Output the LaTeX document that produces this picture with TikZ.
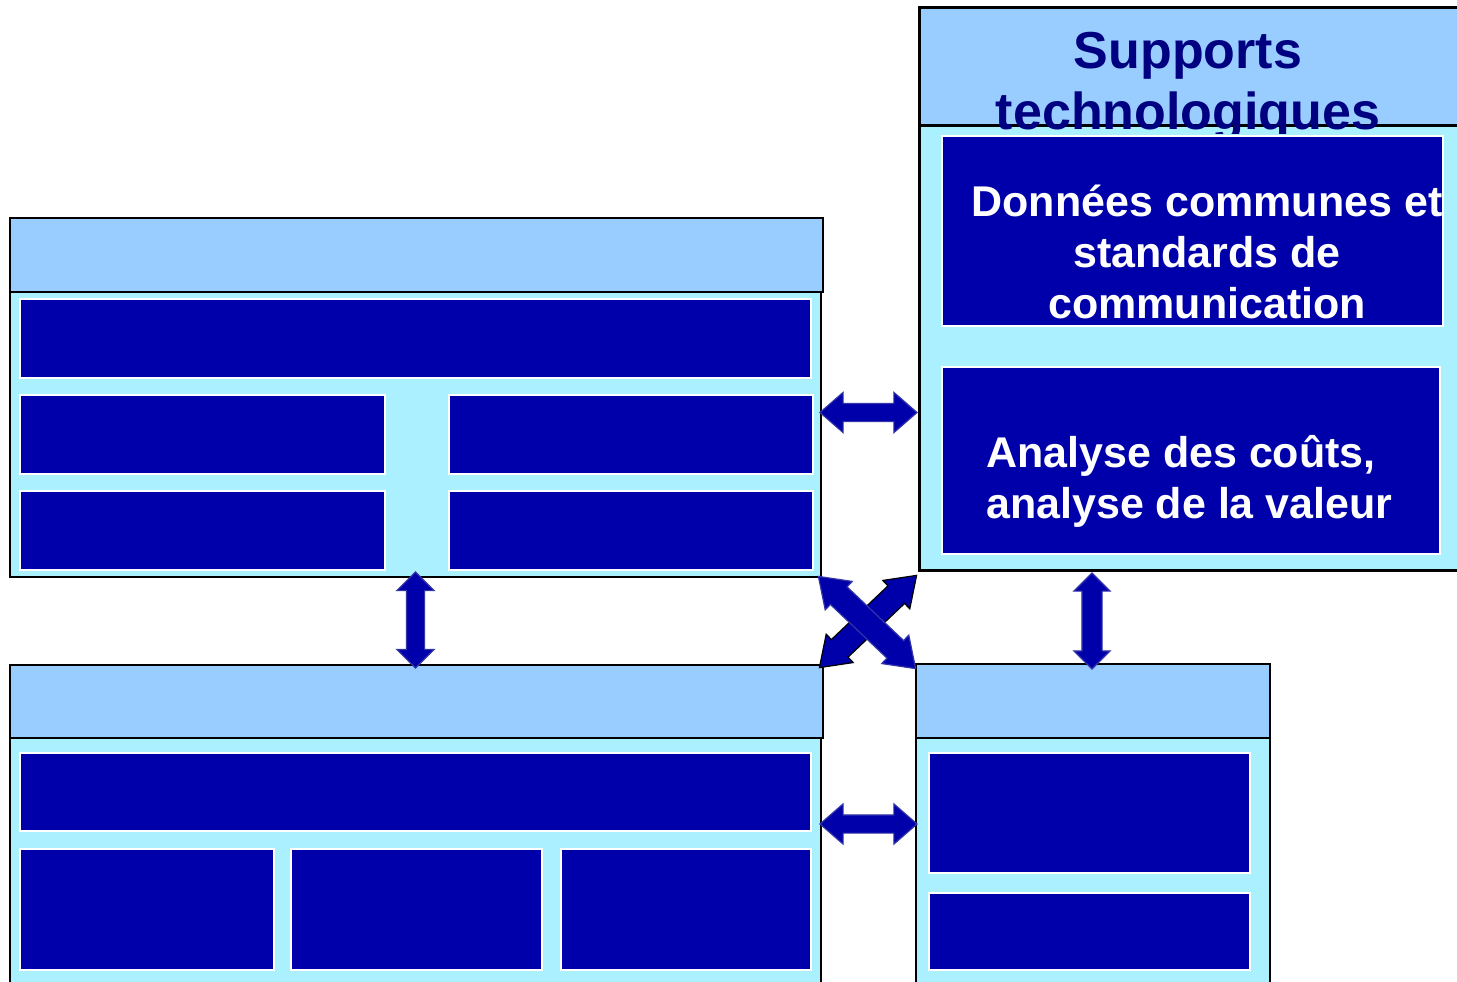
\documentclass[tikz,border=0pt]{standalone}
\usepackage{fontspec}
\setmainfont{Liberation Sans}
\usetikzlibrary{shapes.arrows,fit,calc}
\definecolor{headblue}{HTML}{99CCFF}
\definecolor{panelcyan}{HTML}{AAF0FF}
\definecolor{cellblue}{HTML}{0000AA}
\definecolor{titlenavy}{HTML}{000080}
\definecolor{arrowrim}{HTML}{3333AA}
\tikzset{head/.style={draw=black, line width=2pt, fill=headblue, inner sep=0pt},
  panel/.style={draw=black, line width=1.5pt, fill=panelcyan, inner sep=0pt},
  cell/.style={draw=white, line width=2pt, fill=cellblue, inner sep=0pt},
  celltxt/.style={text=white, inner sep=0pt, font=\bfseries\fontsize{43}{51}\selectfont},
  twoway/.style={double arrow, draw=arrowrim, line width=1.2pt, fill=cellblue,
    inner xsep=0pt, minimum width=1pt, double arrow head extend=#1}}

\begin{document}
\begin{tikzpicture}[x=1pt, y=-1pt]
  \useasboundingbox (0,0) rectangle (1457,982);
  % top-left block
  \node[head, fit={(10,218) (823,292)}] (tlhead) {};
  \node[panel, fit={(10,292) (821,577)}] (tlbody) {};
  \node[cell, fit={(20,299) (811,378)}] (tlbar) {};
  \node[cell, fit={(20,395) (385,474)}] (tlc1) {};
  \node[cell, fit={(449,395) (813,474)}] (tlc2) {};
  \node[cell, fit={(20,491) (385,570)}] (tlc3) {};
  \node[cell, fit={(449,491) (813,570)}] (tlc4) {};
  % bottom-left block
  \node[head, fit={(10,665) (823,738)}] (blhead) {};
  \node[panel, fit={(10,738) (821,985)}] (blbody) {};
  \node[cell, fit={(20,753) (811,831)}] (blbar) {};
  \node[cell, fit={(20,849) (274,970)}] (blc1) {};
  \node[cell, fit={(291,849) (542,970)}] (blc2) {};
  \node[cell, fit={(561,849) (811,970)}] (blc3) {};
  % top-right block (runs off the right edge)
  \node[head, line width=3pt, fit={(919,8) (1470,125)}] (trhead) {};
  \node[panel, line width=3pt, fit={(919,125) (1470,570)}] (trbody) {};
  \node[cell, fit={(942,136) (1443,326)}] (trc1) {};
  \node[cell, fit={(942,367) (1440,554)}] (trc2) {};
  \begin{scope}
    \clip (919,0) rectangle (1470,133);
    \node[text=titlenavy, align=center, inner sep=0pt,
      font=\bfseries\fontsize{52}{61}\selectfont] (trtitle) at (1188,86) {Supports\\technologiques};
  \end{scope}
  \node[celltxt, align=center] (trc1txt) at (1207,251.5) {Données communes et\\standards de\\communication};
  \node[celltxt, align=left, anchor=west] (trc2txt) at (986,481.5) {Analyse des coûts,\\analyse de la valeur};
  % bottom-right block
  \node[head, fit={(916,664) (1270,738)}] (brhead) {};
  \node[panel, fit={(916,738) (1270,985)}] (brbody) {};
  \node[cell, fit={(929,753) (1250,873)}] (brc1) {};
  \node[cell, fit={(929,893) (1250,970)}] (brc2) {};
  % links between blocks
  \coordinate (gaptop) at (868.5,412.5);
  \coordinate (gapbot) at (868.5,824);
  \node[twoway=11pt, inner ysep=8.5pt, minimum height=97pt, double arrow tip angle=82]
    (lnktop) at (gaptop) {};
  \node[twoway=11pt, inner ysep=8.5pt, minimum height=97pt, double arrow tip angle=82]
    (lnkbot) at (gapbot) {};
  \node[twoway=9.5pt, inner ysep=8.5pt, minimum height=96pt, rotate=90]
    (lnkleft) at (tlbody.south |- 0,620) {};
  \node[twoway=8pt, inner ysep=9.5pt, minimum height=96pt, rotate=90]
    (lnkright) at (1092,621) {};
  % crossed links
  \node[twoway=7.5pt, draw=black, inner ysep=11.5pt, minimum height=134pt,
    double arrow tip angle=70, rotate=43.5] (lnkcrossb) at (868,621.5) {};
  \node[twoway=7.5pt, inner ysep=11.5pt, minimum height=134pt,
    double arrow tip angle=70, rotate=-43.5] (lnkcrossa) at (867,622.5) {};
\end{tikzpicture}
\end{document}
